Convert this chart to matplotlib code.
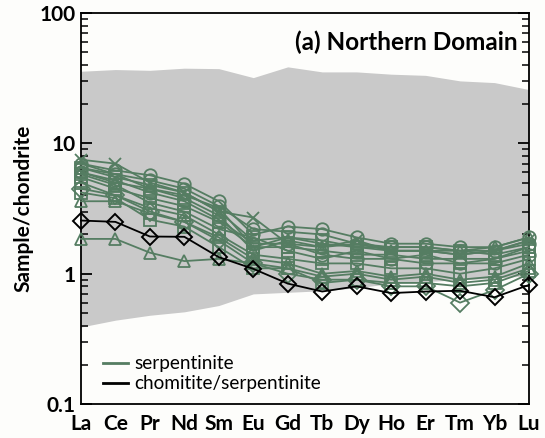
import matplotlib
matplotlib.use("Agg")
import matplotlib.pyplot as plt
from matplotlib.ticker import LogLocator, NullFormatter, FixedLocator, FixedFormatter
from matplotlib.lines import Line2D

plt.rcParams['font.family'] = ['Lato', 'DejaVu Sans']

elements = ['La', 'Ce', 'Pr', 'Nd', 'Sm', 'Eu', 'Gd', 'Tb', 'Dy', 'Ho', 'Er', 'Tm', 'Yb', 'Lu']

field_upper = [35.8, 36.9, 36.4, 37.8, 37.5, 32.0, 38.7, 35.4, 35.4, 34.0, 33.3, 30.2, 29.3, 25.9]
field_lower = [0.39, 0.44, 0.48, 0.51, 0.57, 0.70, 0.72, 0.74, 0.78, 0.84, 0.87, 0.90, 0.92, 0.97]

chromitite = [2.56, 2.50, 1.93, 1.92, 1.34, 1.09, 0.84, 0.73, 0.80, 0.71, 0.73, 0.74, 0.66, 0.82]

serp_markers = ['o', 'x', 's', 's', '^', 's', 'o', '^', '^', 'D', 's', '_', 's', 'o']
serp_values = [
    [7.0, 6.2, 5.7, 4.9, 3.6, 2.0, 2.3, 2.2, 1.9, 1.7, 1.7, 1.6, 1.6, 1.9],
    [7.5, 7.0, 5.0, 4.2, 3.0, 2.7, 1.7, 1.6, 1.8, 1.5, 1.5, 1.4, 1.5, 1.8],
    [6.5, 5.5, 4.8, 4.2, 3.0, 1.8, 1.9, 1.8, 1.6, 1.6, 1.6, 1.5, 1.4, 1.6],
    [5.5, 4.5, 3.8, 3.3, 2.5, 1.6, 1.6, 1.5, 1.4, 1.4, 1.3, 1.3, 1.3, 1.5],
    [6.0, 5.0, 4.5, 3.8, 2.8, 1.5, 1.8, 1.6, 1.7, 1.5, 1.5, 1.5, 1.6, 1.9],
    [5.0, 4.0, 3.2, 2.8, 2.0, 1.4, 1.3, 1.2, 1.2, 1.1, 1.1, 1.0, 1.1, 1.3],
    [6.0, 5.2, 4.2, 3.6, 2.6, 1.7, 1.7, 1.4, 1.3, 1.3, 1.2, 1.2, 1.2, 1.4],
    [3.6, 3.6, 2.9, 2.5, 1.9, 1.3, 1.2, 1.0, 1.05, 0.95, 1.0, 0.9, 0.95, 1.2],
    [1.85, 1.85, 1.45, 1.25, 1.3, 1.2, 1.1, 0.95, 1.0, 0.9, 0.95, 0.85, 0.9, 1.1],
    [4.5, 4.0, 3.0, 2.5, 1.8, 1.2, 1.0, 0.9, 0.9, 0.8, 0.8, 0.6, 0.75, 1.0],
    [5.8, 4.8, 3.5, 3.0, 2.2, 1.9, 1.5, 1.3, 1.5, 1.3, 1.4, 1.2, 1.3, 1.6],
    [7.0, 5.8, 4.5, 4.0, 3.2, 1.6, 1.9, 1.7, 1.6, 1.5, 1.5, 1.4, 1.5, 1.8],
    [4.2, 3.8, 2.6, 2.3, 1.6, 1.1, 1.1, 0.85, 0.9, 0.85, 0.85, 0.8, 0.85, 1.05],
    [6.5, 5.8, 5.2, 4.5, 3.3, 2.2, 2.1, 2.0, 1.7, 1.6, 1.6, 1.5, 1.5, 1.7],
]

green = '#557d62'
grey = '#c9c9c9'

fig = plt.figure(figsize=(5.45, 4.38), dpi=100)
fig.patch.set_facecolor('#fdfdfb')
ax = fig.add_axes([0.1486, 0.0776, 0.8220, 0.8924])
ax.set_facecolor('#fdfdfb')

x = list(range(len(elements)))
ax.fill_between(x, field_lower, field_upper, color=grey, linewidth=0, zorder=1)

for m, vals in zip(serp_markers, serp_values):
    ax.plot(x, vals, color=green, linewidth=1.3, marker=m, markersize=9,
            markerfacecolor='none', markeredgecolor=green, markeredgewidth=1.3,
            zorder=3, clip_on=False)

ax.plot(x, chromitite, color='black', linewidth=1.3, marker='D', markersize=8,
        markerfacecolor='none', markeredgecolor='black', markeredgewidth=1.4,
        zorder=4, clip_on=False)

ax.set_yscale('log')
ax.set_ylim(0.1, 100)
ax.set_xlim(0, len(elements) - 1)

ax.set_xticks(x)
ax.set_xticklabels(elements, fontsize=15, fontweight='bold')
ax.tick_params(axis='x', length=0, pad=7)

ax.yaxis.set_major_locator(FixedLocator([0.1, 1, 10, 100]))
ax.yaxis.set_major_formatter(FixedFormatter(['0.1', '1', '10', '100']))
ax.yaxis.set_minor_locator(LogLocator(base=10, subs=range(2, 10)))
ax.yaxis.set_minor_formatter(NullFormatter())
ax.tick_params(axis='y', which='major', direction='in', length=8, width=1.3,
               right=True, labelsize=15, pad=4)
ax.tick_params(axis='y', which='minor', direction='in', length=5, width=1.1,
               right=True)
for lab in ax.get_yticklabels():
    lab.set_fontweight('bold')

for s in ax.spines.values():
    s.set_linewidth(1.3)

ax.set_ylabel('Sample/chondrite', fontsize=15, fontweight='bold', labelpad=4)

ax.text(0.975, 0.955, '(a) Northern Domain', transform=ax.transAxes,
        ha='right', va='top', fontsize=17.5, fontweight='bold', zorder=5)

handles = [Line2D([0], [0], color=green, linewidth=2),
           Line2D([0], [0], color='black', linewidth=2)]
ax.legend(handles, ['serpentinite', 'chomitite/serpentinite'], loc='lower left',
          frameon=False, fontsize=13.7, handlelength=1.3, handletextpad=0.37,
          labelspacing=0.15, borderpad=0, borderaxespad=0,
          bbox_to_anchor=(0.049, 0.03))

fig.savefig('out.png', dpi=100, facecolor=fig.get_facecolor())
